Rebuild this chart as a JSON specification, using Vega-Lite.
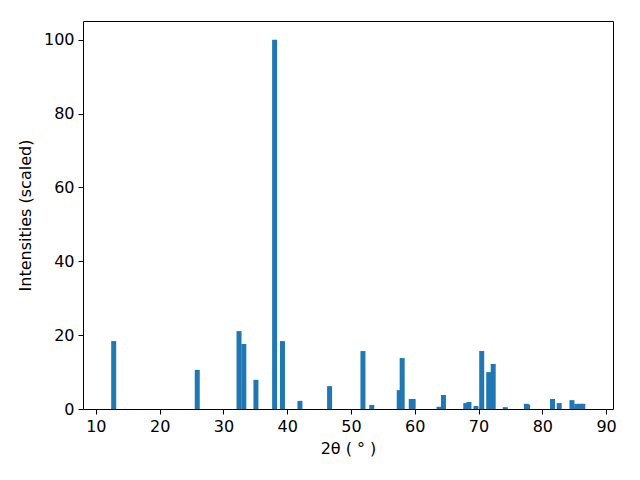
{
  "$schema": "https://vega.github.io/schema/vega-lite/v6.json",
  "width": 530,
  "height": 388,
  "autosize": {"type": "none"},
  "padding": {"left": 83, "top": 21, "right": 27, "bottom": 71},
  "background": "white",
  "config": {
    "view": {"stroke": "black", "strokeWidth": 1},
    "font": "DejaVu Sans",
    "axis": {
      "grid": false,
      "domain": false,
      "tickColor": "black",
      "tickSize": 5,
      "tickWidth": 1,
      "labelFont": "DejaVu Sans",
      "labelFontSize": 16,
      "labelColor": "black",
      "labelPadding": 4,
      "titleFont": "DejaVu Sans",
      "titleFontSize": 16,
      "titleFontWeight": "normal",
      "titleColor": "black"
    }
  },
  "data": {
    "values": [
      {"x": 12.8, "y": 18.4},
      {"x": 25.9, "y": 10.6},
      {"x": 32.45, "y": 21.1},
      {"x": 33.2, "y": 17.6},
      {"x": 35.1, "y": 7.9},
      {"x": 38.03, "y": 100},
      {"x": 39.26, "y": 18.4},
      {"x": 42.0, "y": 2.2},
      {"x": 46.65, "y": 6.2},
      {"x": 51.88, "y": 15.7},
      {"x": 53.26, "y": 1.1},
      {"x": 57.57, "y": 5.1},
      {"x": 58.03, "y": 13.8},
      {"x": 59.45, "y": 2.7},
      {"x": 59.75, "y": 2.7},
      {"x": 63.8, "y": 0.6},
      {"x": 64.5, "y": 3.8},
      {"x": 68.0, "y": 1.6},
      {"x": 68.5, "y": 1.9},
      {"x": 69.6, "y": 0.8},
      {"x": 70.5, "y": 15.7},
      {"x": 71.6, "y": 10.0},
      {"x": 72.3, "y": 12.2},
      {"x": 74.2, "y": 0.5},
      {"x": 77.5, "y": 1.4},
      {"x": 77.7, "y": 1.2},
      {"x": 81.6, "y": 2.7},
      {"x": 82.65, "y": 1.6},
      {"x": 84.65, "y": 2.4},
      {"x": 85.4, "y": 1.4},
      {"x": 86.0, "y": 1.4},
      {"x": 86.35, "y": 1.4}
    ]
  },
  "mark": {"type": "bar", "size": 5, "color": "#1f77b4"},
  "encoding": {
    "x": {
      "field": "x",
      "type": "quantitative",
      "scale": {"domain": [8.77, 90.3], "nice": false, "zero": false},
      "axis": {"values": [10, 20, 30, 40, 50, 60, 70, 80, 90], "title": "2θ ( ° )", "titlePadding": 6}
    },
    "y": {
      "field": "y",
      "type": "quantitative",
      "scale": {"domain": [0, 105.1], "nice": false},
      "axis": {"values": [0, 20, 40, 60, 80, 100], "title": "Intensities (scaled)", "titlePadding": 10}
    }
  }
}
